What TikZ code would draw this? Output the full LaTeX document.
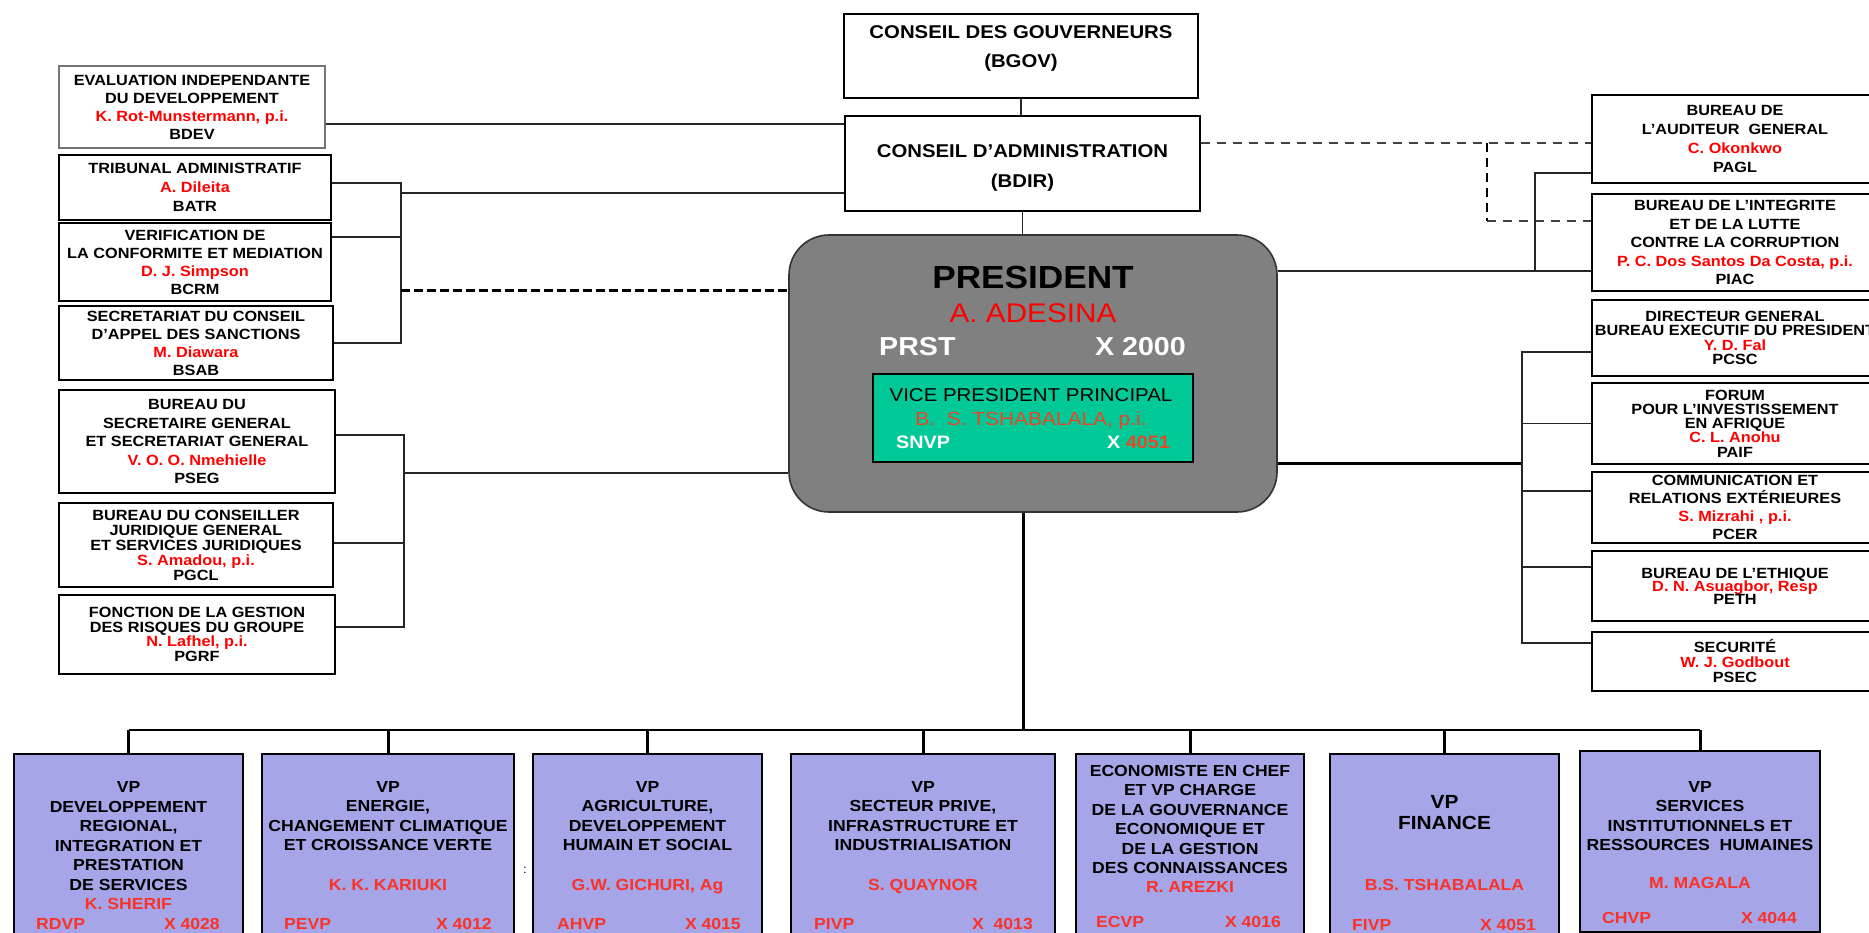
\documentclass[tikz,border=0pt]{standalone}
\usepackage{fontspec}
\setmainfont{Liberation Sans}[FakeStretch=1.1]
\definecolor{vpfill}{RGB}{165,165,232}
\definecolor{grn}{RGB}{0,200,150}
\definecolor{pgray}{RGB}{128,128,128}
\definecolor{nred}{RGB}{255,0,0}
\definecolor{vred}{RGB}{250,50,40}
\definecolor{gred}{RGB}{235,70,40}
\newcommand\redname[1]{\textcolor{nred}{#1}}
\newcommand\sfnt[1]{\bfseries\fontsize{14.8}{#1}\selectfont\lineskiplimit=-20pt\relax}
\newcommand\vfnt{\bfseries\fontsize{16}{19.5}\selectfont\lineskiplimit=-20pt\relax}
\tikzset{
  sbox/.style={draw=black, line width=1.6pt, fill=white, inner sep=0pt, align=center},
  lbox/.style={sbox, minimum width=272pt},
  rbox/.style={sbox, minimum width=286pt},
  vpbox/.style={draw=black, line width=1.6pt, fill=vpfill, inner sep=0pt, anchor=north},
  vptxt/.style={align=center, inner sep=0pt, font=\vfnt},
  vpname/.style={inner sep=0pt, text depth=0pt, text=vred, font=\bfseries\fontsize{16}{19}\selectfont},
  vpcode/.style={inner sep=0pt, text depth=0pt, text=vred, font=\bfseries\fontsize{16}{19}\selectfont},
  conn/.style={line width=1.6pt, draw=black!85},
  bigconn/.style={line width=3pt, draw=black},
  busline/.style={line width=2.4pt, draw=black},
  dconn/.style={line width=3pt, draw=black, dash pattern=on 9pt off 4pt},
  dconnr/.style={line width=2pt, draw=black!75, dash pattern=on 9pt off 7pt},
  dconnv/.style={line width=2.6pt, draw=black, dash pattern=on 9pt off 6pt},
}
\begin{document}
\begin{tikzpicture}[x=1pt,y=-1pt]
\useasboundingbox (0,0) rectangle (1869,933);
\fill[white] (0,0) rectangle (1869,933);
\clip (0,0) rectangle (1869,933);

% ---------- top boards ----------
\node[sbox, minimum width=354pt, minimum height=84pt] (bgov) at (1021,56) {};
\node[align=center, inner sep=0pt, font=\bfseries\fontsize{18.5}{29}\selectfont] (bgovt) at (1021,48) {CONSEIL DES GOUVERNEURS\\(BGOV)};
\node[sbox, minimum width=355pt, minimum height=95pt] (bdir) at (1022.5,163.5) {};
\node[align=center, inner sep=0pt, font=\bfseries\fontsize{18.5}{30}\selectfont] (bdirt) at (1022.5,168) {CONSEIL D'ADMINISTRATION\\(BDIR)};

% ---------- left column ----------
\node[sbox, draw=black!55, minimum width=266pt, minimum height=82pt, font=\sfnt{18}] (bdev) at (192,107)
  {EVALUATION INDEPENDANTE\\DU DEVELOPPEMENT\\\redname{K. Rot-Munstermann, p.i.}\\BDEV};
\node[lbox, minimum height=65pt, font=\sfnt{19}] (batr) at (195,187.5)
  {TRIBUNAL ADMINISTRATIF\\\redname{A. Dileita}\\BATR};
\node[lbox, minimum height=78pt, font=\sfnt{18}] (bcrm) at (195,262)
  {VERIFICATION DE\\LA CONFORMITE ET MEDIATION\\\redname{D. J. Simpson}\\BCRM};
\node[lbox, minimum width=274pt, minimum height=74pt, font=\sfnt{18}] (bsab) at (196,343)
  {SECRETARIAT DU CONSEIL\\D'APPEL DES SANCTIONS\\\redname{M. Diawara}\\BSAB};
\node[lbox, minimum width=276pt, minimum height=103pt, font=\sfnt{18.5}] (pseg) at (197,441.5)
  {BUREAU DU\\SECRETAIRE GENERAL\\ET SECRETARIAT GENERAL\\\redname{V. O. O. Nmehielle}\\PSEG};
\node[lbox, minimum width=274pt, minimum height=84pt, font=\sfnt{15}] (pgcl) at (196,545)
  {BUREAU DU CONSEILLER\\JURIDIQUE GENERAL\\ET SERVICES JURIDIQUES\\\redname{S. Amadou, p.i.}\\PGCL};
\node[lbox, minimum width=276pt, minimum height=79pt, font=\sfnt{14.5}] (pgrf) at (197,634.5)
  {FONCTION DE LA GESTION\\DES RISQUES DU GROUPE\\\redname{N. Lafhel, p.i.}\\PGRF};

% ---------- right column ----------
\node[rbox, minimum height=88pt, font=\sfnt{18.7}] (pagl) at (1735,139)
  {BUREAU DE\\L'AUDITEUR\ \ GENERAL\\\redname{C. Okonkwo}\\PAGL};
\node[rbox, minimum height=97pt, font=\sfnt{18.5}] (piac) at (1735,242.5)
  {BUREAU DE L'INTEGRITE\\ET DE LA LUTTE\\CONTRE LA CORRUPTION\\\redname{P. C. Dos Santos Da Costa, p.i.}\\PIAC};
\node[rbox, minimum height=76pt, font=\sfnt{14.5}] (pcsc) at (1735,338)
  {DIRECTEUR GENERAL\\BUREAU EXECUTIF DU PRESIDENT\\\redname{Y. D. Fal}\\PCSC};
\node[rbox, minimum height=81pt, font=\sfnt{14.3}] (paif) at (1735,423.5)
  {FORUM\\POUR L'INVESTISSEMENT\\EN AFRIQUE\\\redname{C. L. Anohu}\\PAIF};
\node[rbox, minimum height=71pt, font=\sfnt{18}] (pcer) at (1735,507.5)
  {COMMUNICATION ET\\RELATIONS EXTÉRIEURES\\\redname{S. Mizrahi , p.i.}\\PCER};
\node[rbox, minimum height=70pt, font=\sfnt{13}] (peth) at (1735,586)
  {BUREAU DE L'ETHIQUE\\\redname{D. N. Asuagbor, Resp}\\PETH};
\node[rbox, minimum height=59pt, font=\sfnt{15}] (psec) at (1735,661.5)
  {SECURITÉ\\\redname{W. J. Godbout}\\PSEC};

% ---------- president ----------
\node[draw=black!80, line width=1.6pt, fill=pgray, rounded corners=40pt, minimum width=488pt, minimum height=277pt] (pres) at (1033,373.5) {};
\node[inner sep=0pt, text depth=0pt, font=\bfseries\fontsize{32}{36}\selectfont] (prest) at (1033,277) {PRESIDENT};
\node[inner sep=0pt, text depth=0pt, text=nred, font=\fontsize{27}{30}\selectfont] (presn) at (1033,313) {A. ADESINA};
\node[inner sep=0pt, text depth=0pt, text=white, anchor=west, font=\bfseries\fontsize{26}{30}\selectfont] (prst) at (879,346) {PRST};
\node[inner sep=0pt, text depth=0pt, text=white, anchor=east, font=\bfseries\fontsize{26}{30}\selectfont] (prsx) at (1186,346) {X 2000};
\node[draw=black, line width=1.6pt, fill=grn, minimum width=320pt, minimum height=88pt] (snvp) at (1033,418) {};
\node[inner sep=0pt, text depth=0pt, text=black, font=\fontsize{18.6}{20}\selectfont] (snvpt) at (1031,395) {VICE PRESIDENT PRINCIPAL};
\node[inner sep=0pt, text depth=0pt, text=gred, font=\fontsize{19}{20}\selectfont] (snvpn) at (1031,419) {B.\ \ S. TSHABALALA, p.i.};
\node[inner sep=0pt, text depth=0pt, text=white, anchor=west, font=\bfseries\fontsize{18}{20}\selectfont] (snvpc) at (896,442) {SNVP};
\node[inner sep=0pt, text depth=0pt, text=white, anchor=east, font=\bfseries\fontsize{18}{20}\selectfont] (snvpx) at (1170,442) {X \textcolor{gred}{4051}};

% ---------- VP boxes ----------
\node[vpbox, minimum width=229pt, minimum height=220pt] (vp1) at (128.5,753) {};
\node[vpbox, minimum width=252pt, minimum height=220pt] (vp2) at (388,753) {};
\node[vpbox, minimum width=229pt, minimum height=220pt] (vp3) at (647.5,753) {};
\node[vpbox, minimum width=264pt, minimum height=220pt] (vp4) at (923,753) {};
\node[vpbox, minimum width=228pt, minimum height=220pt] (vp5) at (1190,753) {};
\node[vpbox, minimum width=229pt, minimum height=220pt] (vp6) at (1444.5,753) {};
\node[vpbox, minimum width=240pt, minimum height=181pt] (vp7) at (1700,750) {};

\node[vptxt] (vp1t) at (128.5,836) {VP\\DEVELOPPEMENT\\REGIONAL,\\INTEGRATION ET\\PRESTATION\\DE SERVICES};
\node[vpname] (vp1n) at (128.5,904) {K. SHERIF};
\node[vpcode, anchor=west] (vp1c) at (36,924) {RDVP};
\node[vpcode, anchor=east] (vp1x) at (220,924) {X 4028};

\node[vptxt] (vp2t) at (388,816) {VP\\ENERGIE,\\CHANGEMENT CLIMATIQUE\\ET CROISSANCE VERTE};
\node[vpname] (vp2n) at (388,885) {K. K. KARIUKI};
\node[vpcode, anchor=west] (vp2c) at (284,924) {PEVP};
\node[vpcode, anchor=east] (vp2x) at (492,924) {X 4012};
\node[inner sep=0pt, font=\fontsize{12}{12}\selectfont] (colon) at (525,870) {:};

\node[vptxt] (vp3t) at (647.5,816) {VP\\AGRICULTURE,\\DEVELOPPEMENT\\HUMAIN ET SOCIAL};
\node[vpname] (vp3n) at (647.5,885) {G.W. GICHURI, Ag};
\node[vpcode, anchor=west] (vp3c) at (557,924) {AHVP};
\node[vpcode, anchor=east] (vp3x) at (741,924) {X 4015};

\node[vptxt] (vp4t) at (923,816) {VP\\SECTEUR PRIVE,\\INFRASTRUCTURE ET\\INDUSTRIALISATION};
\node[vpname] (vp4n) at (923,885) {S. QUAYNOR};
\node[vpcode, anchor=west] (vp4c) at (814,924) {PIVP};
\node[vpcode, anchor=east] (vp4x) at (1033,924) {X\ \ 4013};

\node[vptxt] (vp5t) at (1190,819.5) {ECONOMISTE EN CHEF\\ET VP CHARGE\\DE LA GOUVERNANCE\\ECONOMIQUE ET\\DE LA GESTION\\DES CONNAISSANCES};
\node[vpname] (vp5n) at (1190,887) {R. AREZKI};
\node[vpcode, anchor=west] (vp5c) at (1096,922) {ECVP};
\node[vpcode, anchor=east] (vp5x) at (1281,922) {X 4016};

\node[vptxt, font=\bfseries\fontsize{19}{21}\selectfont] (vp6t) at (1444.5,812.5) {VP\\FINANCE};
\node[vpname] (vp6n) at (1444.5,885) {B.S. TSHABALALA};
\node[vpcode, anchor=west] (vp6c) at (1352,925) {FIVP};
\node[vpcode, anchor=east] (vp6x) at (1536,925) {X 4051};

\node[vptxt] (vp7t) at (1700,816) {VP\\SERVICES\\INSTITUTIONNELS ET\\RESSOURCES\ \ HUMAINES};
\node[vpname] (vp7n) at (1700,883) {M. MAGALA};
\node[vpcode, anchor=west] (vp7c) at (1602,918) {CHVP};
\node[vpcode, anchor=east] (vp7x) at (1797,918) {X 4044};

% ---------- connectors: top ----------
\draw[conn] (bgov.south) -- (bdir.north -| bgov.south);
\draw[conn] (bdir.south) -- (bdir.south |- pres.north);

% ---------- connectors: left ----------
\coordinate (c0) at (0,124);
\draw[conn] (bdev.east |- c0) -- (bdir.west |- c0);
\coordinate (L1a) at (401,183);
\coordinate (L1b) at (401,343);
\coordinate (L1c) at (401,237);
\coordinate (L1d) at (401,193);
\coordinate (L1e) at (401,291);
\draw[conn] (batr.east |- L1a) -- (L1a) -- (L1b) -- (bsab.east |- L1b);
\draw[conn] (bcrm.east |- L1c) -- (L1c);
\draw[conn] (L1d) -- (bdir.west |- L1d);
\draw[dconn] (L1e) -- (pres.west |- L1e);
\coordinate (L2a) at (404,435);
\coordinate (L2b) at (404,627);
\coordinate (L2c) at (404,543);
\coordinate (L2d) at (404,473);
\draw[conn] (pseg.east |- L2a) -- (L2a) -- (L2b) -- (pgrf.east |- L2b);
\draw[conn] (pgcl.east |- L2c) -- (L2c);
\draw[conn] (L2d) -- (pres.west |- L2d);

% ---------- connectors: right ----------
\coordinate (R1) at (1487,143);
\coordinate (R2) at (1487,221);
\draw[dconnr] (bdir.east |- R1) -- (pagl.west |- R1);
\draw[dconnv] (R1) -- (R2);
\draw[dconnr] (R2) -- (piac.west |- R2);
\coordinate (R3) at (1535,271);
\coordinate (R4) at (1535,173);
\draw[conn] (pres.east |- R3) -- (piac.west |- R3);
\draw[conn] (R3) -- (R4) -- (pagl.west |- R4);
\coordinate (R5) at (1522,352);
\coordinate (R6) at (1522,643);
\coordinate (R7) at (1522,463);
\coordinate (R8) at (1522,491);
\coordinate (R9) at (1522,567);
\draw[bigconn] (pres.east |- R7) -- (R7);
\draw[conn] (pcsc.west |- R5) -- (R5) -- (R6) -- (psec.west |- R6);
\draw[conn] (R5 |- paif.west) -- (paif.west);
\draw[conn] (R8) -- (pcer.west |- R8);
\draw[conn] (R9) -- (peth.west |- R9);

% ---------- connectors: bottom ----------
\coordinate (bus) at (1023,730);
\draw[bigconn] (bus |- pres.south) -- (bus);
\draw[busline] (vp1.north |- bus) -- (vp7.north |- bus);
\foreach \v in {vp1,vp2,vp3,vp4,vp5,vp6,vp7} {
  \draw[bigconn] (\v.north |- bus) -- (\v.north);
}
\end{tikzpicture}
\end{document}
